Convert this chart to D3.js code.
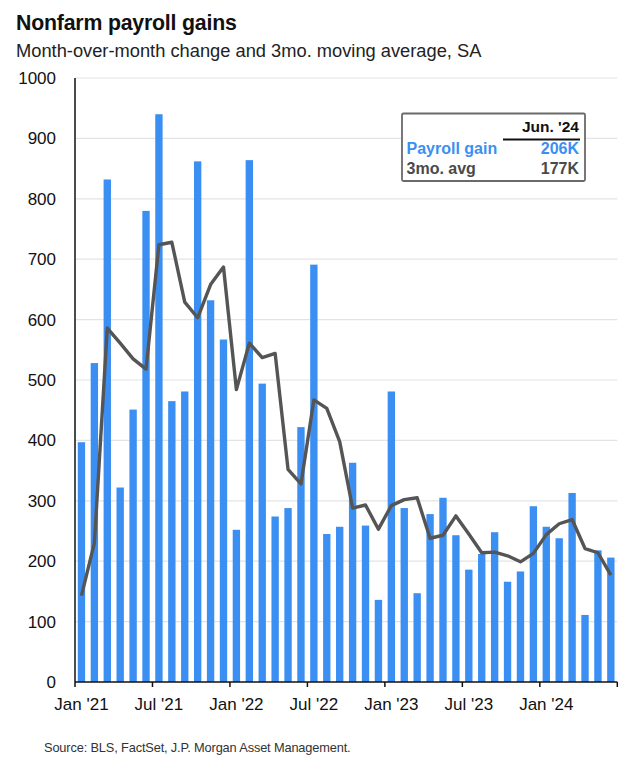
<!DOCTYPE html>
<html>
<head>
<meta charset="utf-8">
<script src="https://cdn.jsdelivr.net/npm/d3@7"></script>
<style>
  html, body { margin: 0; padding: 0; background: #fff; }
  svg { display: block; font-family: "Liberation Sans", Arial, sans-serif; }
</style>
</head>
<body>
<svg id="chart" width="628" height="758"></svg>
<script>
const months = [
  "2021-01","2021-02","2021-03","2021-04","2021-05","2021-06","2021-07","2021-08","2021-09","2021-10","2021-11","2021-12",
  "2022-01","2022-02","2022-03","2022-04","2022-05","2022-06","2022-07","2022-08","2022-09","2022-10","2022-11","2022-12",
  "2023-01","2023-02","2023-03","2023-04","2023-05","2023-06","2023-07","2023-08","2023-09","2023-10","2023-11","2023-12",
  "2024-01","2024-02","2024-03","2024-04","2024-05","2024-06"
];
const payrollGain = [
  397, 528, 832, 322, 451, 780, 940, 465, 481, 862, 632, 567,
  252, 864, 494, 274, 288, 422, 691, 245, 257, 363, 259, 136,
  481, 288, 147, 278, 305, 243, 186, 212, 248, 166, 183, 291,
  257, 238, 313, 111, 218, 206
];
const movingAvg3 = [
  143, 230, 586, 561, 535, 518, 724, 728, 629, 603, 658, 687,
  484, 561, 537, 544, 352, 328, 467, 453, 398, 288, 293, 253,
  292, 302, 305, 238, 243, 275, 245, 214, 215, 209, 199, 213,
  244, 262, 269, 221, 214, 177
];
const tickMonths = ["2021-01","2021-07","2022-01","2022-07","2023-01","2023-07","2024-01"];
const tickLabels = ["Jan '21","Jul '21","Jan '22","Jul '22","Jan '23","Jul '23","Jan '24"];
const yTicks = [0, 100, 200, 300, 400, 500, 600, 700, 800, 900, 1000];
const legendHeader = "Jun. '24";
const legendRows = [
  { label: "Payroll gain", value: "206K", key: "bar" },
  { label: "3mo. avg", value: "177K", key: "line" }
];
const title = "Nonfarm payroll gains";
const subtitle = "Month-over-month change and 3mo. moving average, SA";
const source = "Source: BLS, FactSet, J.P. Morgan Asset Management.";

const BLUE = "#3b8ff3";
const LINE = "#555555";

const svg = d3.select("#chart");
const mLeft = 75, mRight = 617.3, mTop = 78, mBottom = 682;

const x = d3.scaleBand().domain(months).range([mLeft, mRight]).paddingInner(0.43).paddingOuter(0.215);
const step = x.step();
const y = d3.scaleLinear().domain([0, 1000]).range([mBottom, mTop]);

// titles
svg.append("text").attr("x", 16).attr("y", 30)
  .attr("font-size", 21.3).attr("font-weight", "bold").attr("fill", "#111")
  .attr("letter-spacing", -0.2).text(title);
svg.append("text").attr("x", 16).attr("y", 56.5)
  .attr("font-size", 18.3).attr("fill", "#222").text(subtitle);

// gridlines
svg.append("g").selectAll("line").data(yTicks.filter(d => d > 0)).join("line")
  .attr("x1", mLeft).attr("x2", mRight)
  .attr("y1", d => y(d)).attr("y2", d => y(d))
  .attr("stroke", "#e3e3e3").attr("stroke-width", 1.2);

// y labels
svg.append("g").selectAll("text").data(yTicks).join("text")
  .attr("x", 56).attr("y", d => y(d)).attr("dy", "0.35em")
  .attr("text-anchor", "end").attr("font-size", 17).attr("fill", "#111")
  .text(d => d);

// bars
svg.append("g").selectAll("rect").data(months).join("rect")
  .attr("x", d => x(d))
  .attr("width", x.bandwidth())
  .attr("y", (d, i) => y(payrollGain[i]))
  .attr("height", (d, i) => y(0) - y(payrollGain[i]))
  .attr("fill", BLUE);

// line
const line = d3.line()
  .x((d, i) => x(months[i]) + x.bandwidth() / 2)
  .y(d => y(d));
svg.append("path").datum(movingAvg3)
  .attr("d", line).attr("fill", "none")
  .attr("stroke", LINE).attr("stroke-width", 3.4)
  .attr("stroke-linejoin", "round").attr("stroke-linecap", "butt");

// axes
svg.append("line").attr("x1", mLeft).attr("x2", mLeft).attr("y1", mTop).attr("y2", mBottom)
  .attr("stroke", "#111").attr("stroke-width", 1.5);
svg.append("line").attr("x1", mLeft).attr("x2", mRight).attr("y1", mBottom).attr("y2", mBottom)
  .attr("stroke", "#111").attr("stroke-width", 1.5);

const bandStart = m => x(m) - step * x.paddingOuter();
const tickPos = tickMonths.map(bandStart).concat([mRight]);
svg.append("g").selectAll("line").data(tickPos).join("line")
  .attr("x1", d => d).attr("x2", d => d)
  .attr("y1", mBottom).attr("y2", mBottom + 5)
  .attr("stroke", "#111").attr("stroke-width", 1.5);

svg.append("g").selectAll("text").data(tickMonths).join("text")
  .attr("x", d => bandStart(d) + step / 2)
  .attr("y", 709.5)
  .attr("text-anchor", "middle").attr("font-size", 17).attr("fill", "#111")
  .text((d, i) => tickLabels[i]);

// legend box
const lg = svg.append("g");
lg.append("rect").attr("x", 402).attr("y", 113.5).attr("width", 183).attr("height", 67.5)
  .attr("fill", "#fff").attr("stroke", "#6a6a6a").attr("stroke-width", 1.8).attr("rx", 1.5);
lg.append("text").attr("x", 579).attr("y", 131.5).attr("text-anchor", "end")
  .attr("font-size", 15.5).attr("font-weight", "bold").attr("fill", "#111").text(legendHeader);
lg.append("line").attr("x1", 503).attr("x2", 580).attr("y1", 139.5).attr("y2", 139.5)
  .attr("stroke", "#111").attr("stroke-width", 2);
legendRows.forEach((r, i) => {
  const col = r.key === "bar" ? BLUE : "#4a4a4a";
  const yy = 154 + i * 20;
  lg.append("text").attr("x", 406.5).attr("y", yy).attr("font-size", 16)
    .attr("font-weight", "bold").attr("fill", col).text(r.label);
  lg.append("text").attr("x", 579).attr("y", yy).attr("text-anchor", "end").attr("font-size", 16)
    .attr("font-weight", "bold").attr("fill", col).text(r.value);
});

// source
svg.append("text").attr("x", 44).attr("y", 752).attr("font-size", 12.8)
  .attr("fill", "#333").attr("letter-spacing", -0.15).text(source);
</script>
</body>
</html>
